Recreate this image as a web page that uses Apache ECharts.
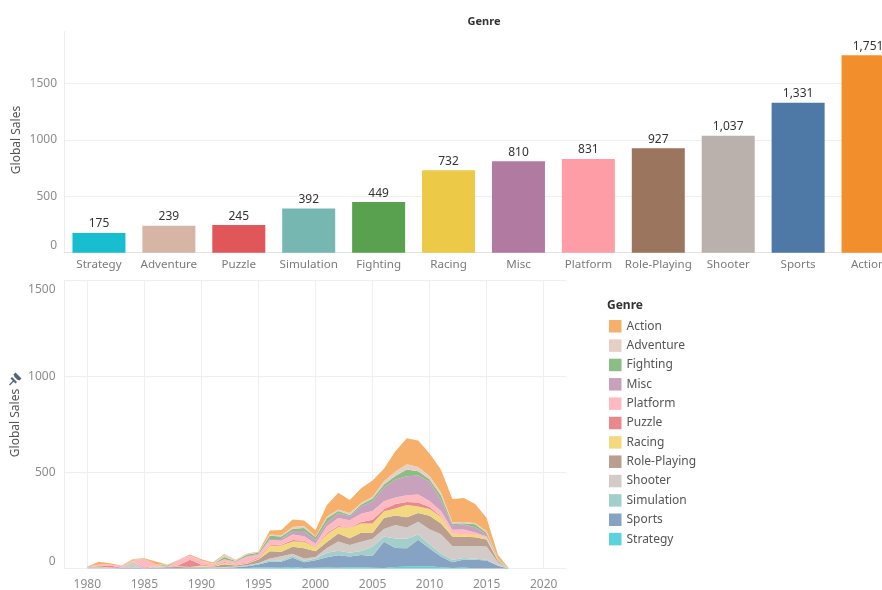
<!DOCTYPE html>
<html>
<head>
<meta charset="utf-8">
<script src="https://cdn.jsdelivr.net/npm/echarts@6/dist/echarts.min.js"></script>
<style>
html,body{margin:0;padding:0;background:#fff;}
#c{width:882px;height:590px;}
</style>
</head>
<body>
<div id="c"></div>
<script>
// ---------- Top bar chart data ----------
const barCategories = ['Strategy','Adventure','Puzzle','Simulation','Fighting','Racing','Misc','Platform','Role-Playing','Shooter','Sports','Action'];
const barValues = [175.12, 239.04, 244.95, 392.2, 448.91, 732.04, 809.96, 831.37, 927.37, 1037.37, 1330.93, 1751.18];
const barTicks = [0, 500, 1000, 1500];

// ---------- Bottom area chart data ----------
const years = [1980,1981,1982,1983,1984,1985,1986,1987,1988,1989,1990,1991,1992,1993,1994,1995,1996,1997,1998,1999,2000,2001,2002,2003,2004,2005,2006,2007,2008,2009,2010,2011,2012,2013,2014,2015,2016,2017];
const action      = [0.34,14.84,6.52,2.86,1.85,3.52,13.74,1.11,1.74,4.64,6.39,6.76,3.83,1.81,1.55,3.57,20.58,27.58,39.44,27.77,33.97,59.39,86.76,67.93,76.25,85.53,66.13,104.97,135.01,137.66,117.64,118.96,122.01,125.22,99.02,69.8,19.91,0.01];
const adventure   = [0,0,0,0.4,0,0,0,4.38,0,0,0,2.24,11.18,4.0,4.0,0.9,7.0,5.7,9.0,11.4,2.5,9.0,8.3,10.2,8.6,8.5,16.0,23.6,26.8,21.6,16.9,16.0,5.8,6.1,6.0,8.1,1.8,0];
const fighting    = [0.77,0,0,0,0,1.05,0,5.42,0,0,0,0,12.0,4.6,8.8,7.5,16.6,13.4,12.0,15.8,14.9,22.4,11.7,6.3,10.0,14.4,16.4,18.6,35.1,22.1,13.1,22.4,9.2,7.2,16.3,7.9,3.4,0];
const misc        = [2.71,0,0.87,2.14,1.45,0,0,0,0,1.28,0,0.84,0.97,0.9,3.0,3.7,5.4,9.0,18.3,27.3,19.7,19.5,24.7,20.6,37.4,51.0,70.7,92.5,99.4,100.0,100.8,58.0,23.2,25.5,27.0,11.6,1.2,0];
const platform    = [0,6.93,5.03,6.93,0.69,43.17,9.39,1.74,27.73,20.66,22.97,7.27,13.51,11.0,30.0,16.0,28.0,20.0,28.0,23.0,16.0,35.0,42.0,38.0,43.0,45.0,42.0,34.0,35.0,41.0,31.0,27.0,19.9,25.0,8.0,6.0,3.0,0];
const puzzle      = [0,2.25,10.04,0.78,3.14,3.21,0,0,5.58,37.75,3.33,3.18,3.1,3.5,3.2,4.5,3.5,5.0,8.0,5.0,3.0,7.0,5.0,1.5,8.0,20.0,11.0,23.8,15.6,20.4,10.6,4.8,1.7,1.0,1.5,0.7,0,0];
const racing      = [0,0.48,1.57,0,5.95,0,1.96,0,2.14,0,6.26,1.42,8.7,3.0,2.5,4.0,27.0,32.0,27.0,35.0,21.0,40.0,34.0,55.0,49.0,50.0,34.65,36.0,64.0,35.0,34.0,33.0,14.0,12.0,16.0,8.0,2.0,0];
const rolePlaying = [0,0,0,0,0,0,2.52,4.65,5.88,2.2,4.52,4.52,14.2,6.0,7.5,18.0,38.0,24.0,36.7,53.0,30.0,31.18,41.0,35.0,46.0,30.0,57.0,50.5,53.5,45.0,70.3,56.7,49.0,47.8,45.0,37.0,7.0,0.03];
const shooter     = [7.07,10.02,3.79,0.48,31.1,1.0,3.89,0.69,0.51,1.2,0.9,1.6,2.7,3.0,2.2,3.0,9.0,21.0,11.0,11.0,8.0,25.0,49.0,40.0,48.0,41.0,39.0,70.0,59.0,66.0,80.0,100.0,72.0,62.0,66.0,67.0,16.5,0];
const simulation  = [0,0.45,0,0,0,0,0,0,0.03,0,1.14,1.46,1.5,1.0,3.5,5.0,8.0,7.0,10.0,8.0,8.0,24.0,23.0,20.0,21.0,48.0,28.0,50.0,49.0,28.0,21.0,15.0,13.0,9.0,6.0,6.0,1.0,0];
const sports      = [0.49,0.78,1.06,3.2,6.17,1.96,5.58,3.71,3.6,5.72,3.88,2.0,4.0,6.0,9.4,16.0,30.0,32.0,48.0,31.0,40.0,53.0,65.0,56.0,64.8,61.5,136.16,98.17,95.52,138.52,92.1,56.1,30.4,41.2,45.2,40.9,14.6,0];
const strategy    = [0,0,0,0,0,0,0,0,0,0,0,0.94,0.4,1.2,3.5,6.0,6.0,4.3,9.0,3.0,4.5,6.0,5.0,7.0,7.0,5.0,4.0,9.0,11.0,12.0,13.0,8.0,3.3,6.1,1.0,1.5,0.5,0];
const areaTicks = [0, 500, 1000, 1500];
// horizontal axis span (with padding years on each side) and labelled years
const axisYears = [1978,1979,1980,1981,1982,1983,1984,1985,1986,1987,1988,1989,1990,1991,1992,1993,1994,1995,1996,1997,1998,1999,2000,2001,2002,2003,2004,2005,2006,2007,2008,2009,2010,2011,2012,2013,2014,2015,2016,2017,2018,2019,2020,2021,2022];
const yearTicks = [1980,1985,1990,1995,2000,2005,2010,2015,2020];

// ---------- Styling ----------
const barColors = {
  'Strategy':'#17BECF','Adventure':'#D7B5A6','Puzzle':'#E15759','Simulation':'#76B7B2',
  'Fighting':'#59A14F','Racing':'#EDC948','Misc':'#B07AA1','Platform':'#FF9DA7',
  'Role-Playing':'#9C755F','Shooter':'#BAB0AC','Sports':'#4E79A7','Action':'#F28E2B'
};
const areaColors = {
  'Action':'#F6B06B','Adventure':'#E6D0C6','Fighting':'#8BBD84','Misc':'#C8A2BD',
  'Platform':'#FFBAC1','Puzzle':'#EA898B','Racing':'#F2D97F','Role-Playing':'#BA9E8F',
  'Shooter':'#D2CBC8','Simulation':'#A3CFCB','Sports':'#86A3C3','Strategy':'#5DD2DD'
};
const legendOrder = ['Action','Adventure','Fighting','Misc','Platform','Puzzle','Racing','Role-Playing','Shooter','Simulation','Sports','Strategy'];
// bottom-to-top stack order
const stackSeries = [
  ['Strategy', strategy], ['Sports', sports], ['Simulation', simulation], ['Shooter', shooter],
  ['Role-Playing', rolePlaying], ['Racing', racing], ['Puzzle', puzzle], ['Platform', platform],
  ['Misc', misc], ['Fighting', fighting], ['Adventure', adventure], ['Action', action]
];

const FONT = 'Noto Sans';
const tickColor = '#8c8c8c';
const gridColor = '#efefef';

const chart = echarts.init(document.getElementById('c'), null, {renderer:'canvas'});

const tickRich = {
  z: {padding: [0,0,14,0], color: tickColor, fontSize: 12, fontFamily: FONT},
  t: {padding: [18,0,0,0], color: tickColor, fontSize: 12, fontFamily: FONT}
};
const isYearTick = (idx, val) => yearTicks.indexOf(Number(val)) >= 0;

const areaSeries = stackSeries.map(([name, vals]) => ({
  name: name,
  type: 'line',
  xAxisIndex: 1, yAxisIndex: 1,
  stack: 'total',
  data: years.map((y, i) => [String(y), vals[i]]),
  showSymbol: false,
  symbol: 'none',
  lineStyle: {width: 0},
  itemStyle: {color: areaColors[name]},
  areaStyle: {color: areaColors[name], opacity: 1},
  emphasis: {disabled: true},
  silent: true,
  animation: false
}));

const option = {
  animation: false,
  textStyle: {fontFamily: FONT},
  grid: [
    {left: 64, width: 839, top: 31.7, height: 221, outerBoundsMode: 'none', containLabel: false},
    {left: 64.5, width: 502, top: 280.7, height: 288, outerBoundsMode: 'none', containLabel: false}
  ],
  xAxis: [
    {
      gridIndex: 0, type: 'category', data: barCategories,
      axisLine: {show: true, lineStyle: {color: '#e3e3e3'}},
      axisTick: {show: false},
      axisLabel: {color: '#7a7a7a', fontSize: 11.6, margin: 6, fontFamily: FONT, interval: 0},
      splitLine: {show: false}
    },
    {
      gridIndex: 1, type: 'category', data: axisYears.map(String), boundaryGap: false,
      axisLine: {show: false},
      axisTick: {show: false},
      axisLabel: {
        color: tickColor, fontSize: 12, margin: 10, fontFamily: FONT,
        interval: isYearTick
      },
      splitLine: {show: true, interval: isYearTick, lineStyle: {color: gridColor, width: 1}}
    }
  ],
  yAxis: [
    {
      gridIndex: 0, type: 'value', min: 0, max: 1960, interval: 500,
      axisLine: {show: true, lineStyle: {color: '#ececec'}},
      axisTick: {show: false},
      axisLabel: {
        color: tickColor, fontSize: 12, margin: 7, fontFamily: FONT, showMaxLabel: false,
        formatter: v => barTicks.indexOf(v) < 0 ? '' : (v === 0 ? '{z|0}' : String(v)),
        rich: tickRich
      },
      splitLine: {show: true, showMaxLine: false, lineStyle: {color: gridColor}}
    },
    {
      gridIndex: 1, type: 'value', min: 0, max: 1500, interval: 500,
      axisLine: {show: true, lineStyle: {color: '#ececec'}},
      axisTick: {show: false},
      axisLabel: {
        color: tickColor, fontSize: 12, margin: 9, fontFamily: FONT,
        formatter: v => areaTicks.indexOf(v) < 0 ? '' : (v === 0 ? '{z|0}' : (v === 1500 ? '{t|1500}' : String(v))),
        rich: tickRich
      },
      splitLine: {show: true, lineStyle: {color: gridColor}}
    }
  ],
  legend: {
    data: legendOrder,
    orient: 'vertical',
    left: 609, top: 320,
    padding: 0,
    itemWidth: 12.5, itemHeight: 12.5,
    itemGap: 6.85,
    icon: 'rect',
    selectedMode: false,
    textStyle: {color: '#555', fontSize: 12, fontFamily: FONT, padding: [0,0,0,0]}
  },
  graphic: [
    {type: 'text', x: 484, y: 21.7, silent: true,
      style: {text: 'Genre', fill: '#333', font: 'bold 11px "Noto Sans"', textAlign: 'center', textVerticalAlign: 'middle'}},
    {type: 'text', x: 607, y: 306, silent: true,
      style: {text: 'Genre', fill: '#333', font: 'bold 12px "Noto Sans"', textAlign: 'left', textVerticalAlign: 'middle'}},
    {type: 'text', x: 17, y: 140, rotation: Math.PI / 2, silent: true,
      style: {text: 'Global Sales', fill: '#555', font: '12px "Noto Sans"', textAlign: 'center', textVerticalAlign: 'middle'}},
    {type: 'text', x: 16, y: 423, rotation: Math.PI / 2, silent: true,
      style: {text: 'Global Sales', fill: '#555', font: '12px "Noto Sans"', textAlign: 'center', textVerticalAlign: 'middle'}},
    {type: 'group', x: 15, y: 379, silent: true, children: [
      {type: 'polygon', shape: {points: [[0.5,-6.5],[6.5,-0.5],[4.5,1.5],[2,0.5],[-0.5,-2],[-1.5,-4.5]]}, style: {fill: '#56657a'}},
      {type: 'polygon', shape: {points: [[-3,-2],[2,3],[0.5,4.5],[-4.5,-0.5]]}, style: {fill: '#56657a'}},
      {type: 'line', shape: {x1: -1, y1: 1.5, x2: -5.5, y2: 6}, style: {stroke: '#56657a', lineWidth: 1.3}}
    ]}
  ],
  series: [
    {
      type: 'bar', xAxisIndex: 0, yAxisIndex: 0,
      data: barValues.map((v, i) => ({value: v, itemStyle: {color: barColors[barCategories[i]]}})),
      barWidth: 53,
      label: {
        show: true, position: 'top', distance: 3,
        color: '#333', fontSize: 12, fontFamily: FONT,
        formatter: p => Math.round(p.value).toLocaleString('en-US')
      },
      silent: true
    }
  ].concat(areaSeries)
};

chart.setOption(option);
</script>
</body>
</html>
